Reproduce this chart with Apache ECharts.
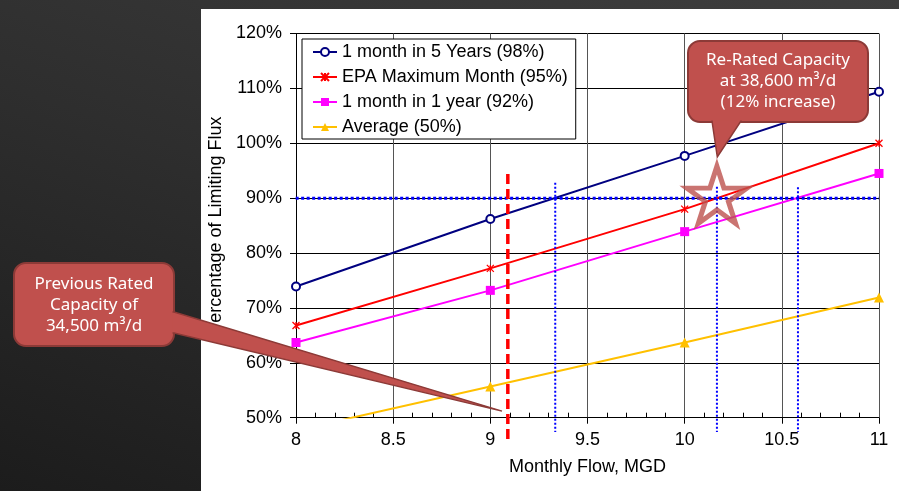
<!DOCTYPE html>
<html><head><meta charset="utf-8">
<script src="https://cdn.jsdelivr.net/npm/echarts@6/dist/echarts.min.js"></script>
<style>
html,body{margin:0;padding:0;width:899px;height:491px;overflow:hidden;}
body{background:linear-gradient(200deg,#3e3e3e 0%,#2e2e2e 50%,#1c1c1c 100%);position:relative;}
#panel{position:absolute;left:201px;top:9px;width:698px;height:482px;background:#fff;}
#chart{position:absolute;left:0;top:0;width:899px;height:491px;}
</style></head><body>
<div id="panel"></div><div id="chart"></div>
<script>
// ---- data ----
const flows = [8, 9, 10, 11];
const seriesNames = ['1 month in 5 Years (98%)', 'EPA Maximum Month (95%)', '1 month in 1 year (92%)', 'Average (50%)'];
const fiveYear = [73.9, 86.2, 97.7, 109.4];
const epaMax = [66.8, 77.2, 88.0, 100.0];
const oneYear = [63.7, 73.2, 83.9, 94.5];
const average = [47.7, 55.7, 63.7, 71.9];
const yTickMin = 50, yTickMax = 120, yTickStep = 10;
const xTickMin = 8, xTickMax = 11, xTickStep = 0.5;
// reference lines
const limitX = [7.97, 11];
const limitY = [90, 90];
const reratedX = [9.334, 10.166, 10.583];
const reratedTop = [92.8, 92.1, 92.0];
const reratedBottom = [47.4, 47.4, 47.4];
const prevX = [9.09, 9.09];
const prevY = [94.4, 46.0];
const starPoint = [10.166, 90];
const prevTip = [9.06, 51.2];
const newTip = [10.168, 97.5];
const prevText = 'Previous Rated\nCapacity of\n34,500 m³/d';
const newText = 'Re-Rated Capacity\nat 38,600 m³/d\n(12% increase)';

const zip = (xs, ys) => xs.map((x, i) => [x, ys[i]]);
const FONT = '"Liberation Sans", Arial, sans-serif';
const asterisk = 'path://M0,0L10,10M10,0L0,10M5,0L5,10';
const starPath = 'path://M0,-34L7.6,-10.5L32.3,-10.5L12.4,4L20,27.5L0,13L-20,27.5L-12.4,4L-32.3,-10.5L-7.6,-10.5Z';

const chart = echarts.init(document.getElementById('chart'), null, {renderer: 'canvas'});

const dataSeries = [
  {name: seriesNames[0], values: fiveYear, color: '#000080', symbol: 'emptyCircle', size: 8},
  {name: seriesNames[1], values: epaMax, color: '#FF0000', symbol: asterisk, size: 7},
  {name: seriesNames[2], values: oneYear, color: '#FF00FF', symbol: 'rect', size: 9},
  {name: seriesNames[3], values: average, color: '#FFC000', symbol: 'triangle', size: 10}
].map(s => ({
  type: 'line', name: s.name, data: zip(flows, s.values),
  symbol: s.symbol, symbolSize: s.size, showAllSymbol: true,
  lineStyle: {color: s.color, width: 2},
  itemStyle: s.symbol === asterisk
    ? {color: 'rgba(0,0,0,0)', borderColor: s.color, borderWidth: 1.3}
    : {color: s.color, borderColor: s.color, borderWidth: s.symbol === 'emptyCircle' ? 1.3 : 0},
  color: s.color, z: 3
}));

const refSeries = [];
refSeries.push({type: 'line', name: 'limit', data: zip(limitX, limitY), symbol: 'none', clip: false, silent: true,
  lineStyle: {color: '#0000FF', width: 3, type: [3, 2.5]}, z: 4});
reratedX.forEach((x, i) => refSeries.push({type: 'line', name: 'rr' + i,
  data: [[x, reratedTop[i]], [x, reratedBottom[i]]], symbol: 'none', clip: false, silent: true,
  lineStyle: {color: '#0000FF', width: 2, type: [2, 2]}, z: 4}));
refSeries.push({type: 'line', name: 'prev', data: zip(prevX, prevY), symbol: 'none', clip: false, silent: true,
  lineStyle: {color: '#FF0000', width: 3.5, type: [10, 5]}, z: 4});
refSeries.push({type: 'scatter', name: 'star', data: [starPoint], symbol: starPath, symbolSize: [60, 57],
  symbolOffset: [0, -3.3], silent: true, itemStyle: {color: 'rgba(0,0,0,0)', borderColor: '#BD514D', borderWidth: 5}, z: 5});

const option = {
  animation: false,
  backgroundColor: 'transparent',
  textStyle: {fontFamily: FONT},
  grid: {left: 296, right: 20, top: 33.5, bottom: 73.3, containLabel: false},
  legend: {
    data: seriesNames, orient: 'vertical', left: 302, top: 39,
    backgroundColor: '#fff', borderColor: '#000', borderWidth: 1,
    padding: [4, 8, 3, 10], itemGap: 7, itemWidth: 24, itemHeight: 10,
    textStyle: {fontSize: 18, color: '#000', fontFamily: FONT, padding: [0, 0, 0, 0]},
    z: 6
  },
  xAxis: [{
    type: 'value', min: xTickMin, max: xTickMax, interval: xTickStep,
    name: 'Monthly Flow, MGD', nameLocation: 'middle', nameGap: 40,
    nameTextStyle: {fontSize: 18, color: '#000', fontFamily: FONT},
    axisLine: {show: true, lineStyle: {color: '#000', width: 1}},
    axisTick: {show: true, length: 6, lineStyle: {color: '#000'}},
    axisLabel: {fontSize: 18, color: '#000', margin: 13, fontFamily: FONT},
    splitLine: {show: true, lineStyle: {color: '#555', width: 1}}
  }, {
    type: 'value', min: xTickMin, max: xTickMax, interval: xTickStep, position: 'bottom',
    axisLine: {show: false}, axisLabel: {show: false},
    axisTick: {show: false, inside: true},
    minorTick: {show: true, splitNumber: 5, length: 5, lineStyle: {color: '#000'}},
    splitLine: {show: false}
  }],
  yAxis: {
    type: 'value', min: yTickMin, max: yTickMax, interval: yTickStep,
    name: 'Percentage of Limiting Flux', nameLocation: 'middle', nameGap: 50, nameRotate: 90,
    nameTextStyle: {fontSize: 18, color: '#000', fontFamily: FONT},
    axisLine: {show: true, lineStyle: {color: '#000', width: 1}},
    axisTick: {show: true, length: 6, lineStyle: {color: '#000'}},
    axisLabel: {fontSize: 18, color: '#000', margin: 14, fontFamily: FONT, formatter: '{value}%'},
    splitLine: {show: true, lineStyle: {color: '#000', width: 1}}
  },
  series: dataSeries.concat(refSeries)
};
chart.setOption(option);

const p1 = chart.convertToPixel({seriesIndex: 0}, prevTip);
const p2 = chart.convertToPixel({seriesIndex: 0}, newTip);
const FILL = '#C0504D', EDGE = '#8C3A37';
const CFONT = '"Noto Sans", "Open Sans", sans-serif';
chart.setOption({graphic: [
  {type: 'rect', z: 100, shape: {x: 14, y: 263, width: 160, height: 83, r: 12}, style: {fill: FILL, stroke: EDGE, lineWidth: 2}},
  {type: 'polygon', z: 101, shape: {points: [[160, 312], [174, 312], p1, [174, 333], [160, 333]]}, style: {fill: FILL, stroke: EDGE, lineWidth: 1.5}},
  {type: 'rect', z: 102, shape: {x: 15.5, y: 264.5, width: 157, height: 80, r: 11}, style: {fill: FILL}},
  {type: 'text', z: 103, x: 94, y: 305, style: {text: prevText, fill: '#fff', font: '17px ' + CFONT, align: 'center', verticalAlign: 'middle', lineHeight: 21}},
  {type: 'rect', z: 100, shape: {x: 688, y: 41, width: 180, height: 81, r: 12}, style: {fill: FILL, stroke: EDGE, lineWidth: 2}},
  {type: 'polygon', z: 101, shape: {points: [[712, 110], [712, 121], p2, [741, 121], [741, 110]]}, style: {fill: FILL, stroke: EDGE, lineWidth: 1.5}},
  {type: 'rect', z: 102, shape: {x: 689.5, y: 42.5, width: 177, height: 78, r: 11}, style: {fill: FILL}},
  {type: 'text', z: 103, x: 778, y: 81.5, style: {text: newText, fill: '#fff', font: '17px ' + CFONT, align: 'center', verticalAlign: 'middle', lineHeight: 21}}
]});
</script></body></html>
